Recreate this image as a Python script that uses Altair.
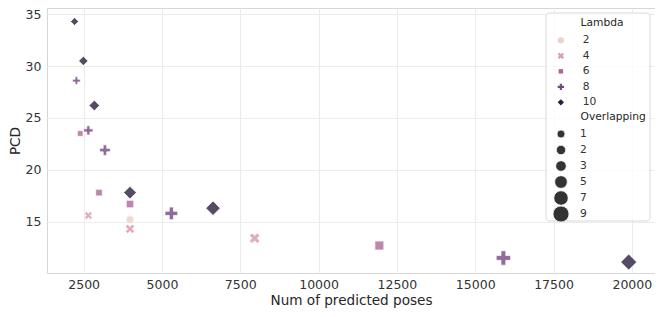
import altair as alt
import pandas as pd

# ---- data ----
lambdas = [10, 10, 10, 10, 10, 10, 8, 8, 8, 8, 8, 6, 6, 6, 6, 4, 4, 4, 2]
overlapping = [1, 2, 3, 5, 7, 9, 1, 2, 3, 5, 7, 1, 2, 3, 5, 1, 2, 3, 1]
num_poses = [2210, 2490, 2840, 3980, 6630, 19900,
             2270, 2650, 3180, 5300, 15900,
             2390, 2990, 3980, 11940,
             2650, 3980, 7960,
             3980]
pcd = [34.3, 30.5, 26.2, 17.8, 16.3, 11.1,
       28.6, 23.8, 21.9, 15.8, 11.5,
       23.5, 17.8, 16.7, 12.7,
       15.6, 14.3, 13.4,
       15.2]

lambda_levels = [2, 4, 6, 8, 10]
lambda_colors = ["#edd1cb", "#d99bb0", "#ad6896", "#744882", "#2d1e3e"]
overlap_levels = [1, 2, 3, 5, 7, 9]
x_ticks = [2500, 5000, 7500, 10000, 12500, 15000, 17500, 20000]
y_ticks = [15, 20, 25, 30, 35]
legend_titles = ["Lambda", "Overlapping"]

df = pd.DataFrame({"Lambda": lambdas, "Overlapping": overlapping,
                   "Num of predicted poses": num_poses, "PCD": pcd})


def poly_path(pts):
    return "M" + "L".join(f"{x:.4f},{y:.4f}" for x, y in pts) + "Z"


plus_pts = [(-1/3, -1), (1/3, -1), (1/3, -1/3), (1, -1/3), (1, 1/3), (1/3, 1/3),
            (1/3, 1), (-1/3, 1), (-1/3, 1/3), (-1, 1/3), (-1, -1/3), (-1/3, -1/3)]
x_raw = [(-1, -2), (0, -1), (1, -2), (2, -1), (1, 0), (2, 1), (1, 2), (0, 1),
         (-1, 2), (-2, 1), (-1, 0), (-2, -1)]
x_pts = [(a / 2, b / 2) for a, b in x_raw]
s = 0.7071
sq_pts = [(-s, -s), (s, -s), (s, s), (-s, s)]
shapes = ["circle", poly_path(x_pts), poly_path(sq_pts), poly_path(plus_pts), "diamond"]

W, H = 608, 265
FONT = "DejaVu Sans"
TXT = "#333333"
LFS = 10.7

frame_x1, frame_x2 = W - 109, W - 5
frame_y1, frame_y2 = 5, 213

lambda_legend = alt.Legend(title=None, orient="none",
                           legendX=frame_x1 + 9.5, legendY=frame_y1 + 22,
                           symbolSize=40, labelOffset=16.5, rowPadding=3.5)

points = alt.Chart(df).mark_point(
    filled=True, opacity=0.8, stroke="white", strokeWidth=0.75
).encode(
    x=alt.X("Num of predicted poses:Q",
            scale=alt.Scale(domain=[1330, 20740], nice=False, zero=False),
            axis=alt.Axis(values=x_ticks, format="d", labelPadding=5, titlePadding=3)),
    y=alt.Y("PCD:Q",
            scale=alt.Scale(domain=[10.05, 35.6], nice=False, zero=False),
            axis=alt.Axis(values=y_ticks, format="d", labelPadding=6, titlePadding=3)),
    color=alt.Color("Lambda:O",
                    scale=alt.Scale(domain=lambda_levels, range=lambda_colors),
                    legend=lambda_legend),
    shape=alt.Shape("Lambda:O",
                    scale=alt.Scale(domain=lambda_levels, range=shapes),
                    legend=lambda_legend),
    size=alt.Size("Overlapping:Q",
                  scale=alt.Scale(domain=[1, 9], range=[64, 256], zero=False),
                  legend=alt.Legend(title=None, orient="none",
                                    legendX=frame_x1 + 6.5, legendY=frame_y1 + 113.2,
                                    values=overlap_levels, format="d",
                                    symbolType="circle", symbolFillColor="#333333",
                                    labelOffset=10.5, rowPadding=0, clipHeight=15.6,
                                    gridAlign="all")),
)

frame = alt.Chart(pd.DataFrame({"frame": [0]})).mark_rect(
    fill="white", fillOpacity=0.8, stroke="#d9d9d9", strokeWidth=1, cornerRadius=3
).encode(
    x=alt.value(frame_x1), x2=alt.value(frame_x2),
    y=alt.value(frame_y1), y2=alt.value(frame_y2),
)

title_lambda = alt.Chart(pd.DataFrame({"t": [legend_titles[0]]})).mark_text(
    align="left", baseline="middle", font=FONT, fontSize=LFS, color="#262626"
).encode(text="t:N", x=alt.value(frame_x1 + 34.5), y=alt.value(frame_y1 + 9.7))

title_overlap = alt.Chart(pd.DataFrame({"t": [legend_titles[1]]})).mark_text(
    align="left", baseline="middle", font=FONT, fontSize=LFS, color="#262626"
).encode(text="t:N", x=alt.value(frame_x1 + 34.5), y=alt.value(frame_y1 + 104))

chart = alt.layer(points, frame, title_lambda, title_overlap).properties(
    width=W, height=H, padding={"left": 0, "top": 0, "right": 0, "bottom": 0},
    background="white",
).configure_view(
    stroke="#d6d6d6", strokeWidth=1
).configure_axis(
    grid=True, gridColor="#ebebeb", gridWidth=1, domain=False, ticks=False,
    labelFont=FONT, titleFont=FONT, labelFontSize=12.5, titleFontSize=13.6,
    labelColor=TXT, titleColor="#262626", titleFontWeight="normal",
).configure_legend(
    labelFont=FONT, titleFont=FONT, labelFontSize=LFS, titleFontSize=LFS,
    labelColor=TXT, titleColor="#262626", titleFontWeight="normal",
    padding=0, symbolStrokeColor="white", symbolStrokeWidth=0.75, symbolOpacity=1,
)

chart.save("out.html", embed_options={"renderer": "svg", "actions": False})
